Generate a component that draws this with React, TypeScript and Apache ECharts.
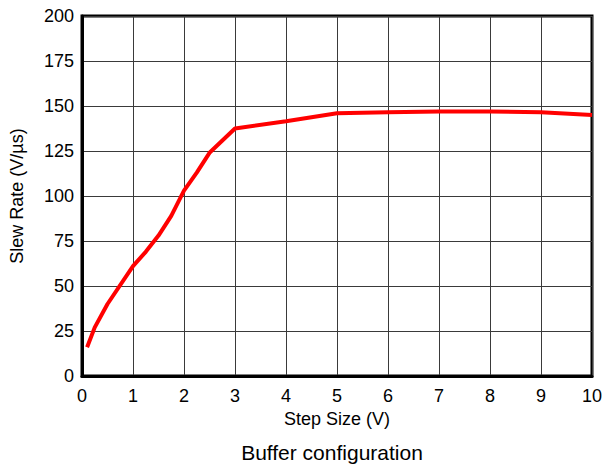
import React, { useEffect, useRef } from "react";
import * as echarts from "echarts";

const stepSize = [0.1, 0.25, 0.5, 1, 1.25, 1.5, 1.75, 2, 2.25, 2.5, 3, 4, 5, 6, 7, 8, 9, 10];
const slewRate = [16, 27, 40, 61, 69, 78, 89, 103, 113, 124, 137.5, 141.5, 146, 146.5, 147, 147, 146.5, 145];

const xTitle = "Step Size (V)";
const yTitle = "Slew Rate (V/\u00b5s)";
const chartTitle = "Buffer configuration";

export default function App() {
  const ref = useRef<HTMLDivElement>(null);
  useEffect(() => {
    if (!ref.current) return;
    const chart = echarts.init(ref.current, null, { renderer: "svg" });
    const font = "Liberation Sans, Arial, sans-serif";
    chart.setOption({
      animation: false,
      backgroundColor: "#fff",
      graphic: [
        {
          type: "text",
          x: 332,
          y: 452,
          style: {
            text: chartTitle,
            fontFamily: font,
            fontSize: 21,
            fill: "#000",
            align: "center",
            verticalAlign: "middle",
          },
        },
      ],
      grid: {
        left: 82,
        right: 11,
        top: 16,
        bottom: 90,
        show: true,
        borderColor: "#000",
        borderWidth: 3,
        backgroundColor: "#fff",
      },
      xAxis: {
        type: "value",
        min: 0,
        max: 10,
        interval: 1,
        name: xTitle,
        nameLocation: "middle",
        nameGap: 30,
        nameTextStyle: { fontFamily: font, fontSize: 18, color: "#000" },
        axisLine: { show: true, lineStyle: { color: "#000", width: 3 } },
        axisTick: { show: false },
        axisLabel: { fontFamily: font, fontSize: 18, color: "#000", margin: 11 },
        splitLine: { show: true, lineStyle: { color: "#3a3a3a", width: 1 } },
      },
      yAxis: {
        type: "value",
        min: 0,
        max: 200,
        interval: 25,
        name: yTitle,
        nameLocation: "middle",
        nameGap: 56,
        nameTextStyle: { fontFamily: font, fontSize: 18, color: "#000" },
        axisLine: { show: true, lineStyle: { color: "#000", width: 3 } },
        axisTick: { show: false },
        axisLabel: { fontFamily: font, fontSize: 18, color: "#000", margin: 8 },
        splitLine: { show: true, lineStyle: { color: "#3a3a3a", width: 1 } },
      },
      series: [
        {
          type: "line",
          data: stepSize.map((x, i) => [x, slewRate[i]]),
          showSymbol: false,
          symbol: "none",
          lineStyle: { color: "#ff0000", width: 4 },
          z: 5,
        },
      ],
    });
    return () => chart.dispose();
  }, []);
  return (
    <div
      ref={ref}
      style={{ position: "absolute", left: 0, top: 0, width: 605, height: 466 }}
    />
  );
}
